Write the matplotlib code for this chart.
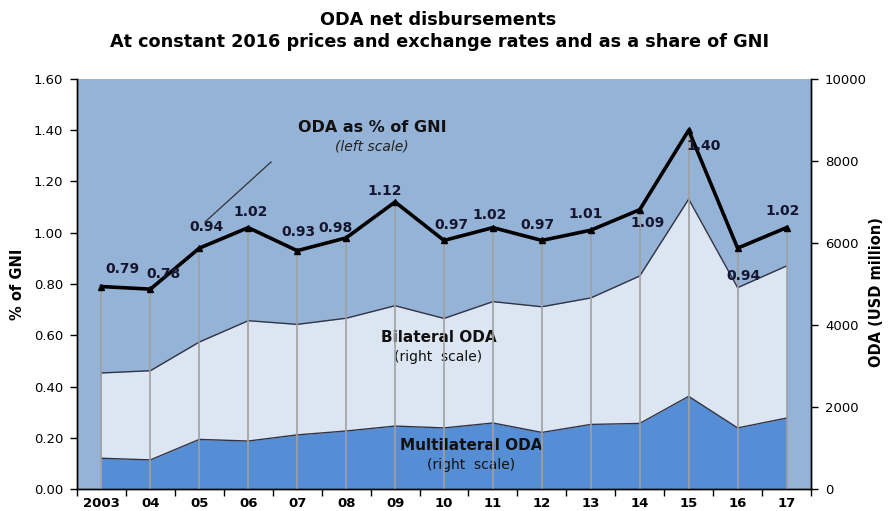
import matplotlib
matplotlib.use("Agg")
import matplotlib.pyplot as plt
import numpy as np

plt.rcParams['font.family'] = ['DejaVu Sans']

years = ["2003", "04", "05", "06", "07", "08", "09", "10", "11", "12", "13", "14", "15", "16", "17"]
multilateral = [750, 710, 1210, 1170, 1320, 1415, 1535, 1490, 1610, 1380, 1575, 1600, 2260, 1490, 1730]
total_oda = [2830, 2885, 3585, 4105, 4015, 4165, 4470, 4160, 4570, 4445, 4660, 5195, 7070, 4910, 5440]
bilateral = [t - m for t, m in zip(total_oda, multilateral)]
oda_gni = [0.79, 0.78, 0.94, 1.02, 0.93, 0.98, 1.12, 0.97, 1.02, 0.97, 1.01, 1.09, 1.40, 0.94, 1.02]
label_offsets = [(21, 18), (13, 15), (7, 21), (2, 16), (1, 19), (-11, 10), (-10, 11), (7, 15),
                 (-3, 13), (-4, 15), (-5, 16), (8, -13), (15, -16), (6, -28), (-4, 17)]

W, H = 890, 511
fig = plt.figure(figsize=(W / 100, H / 100), dpi=100)
L, R, T, B = 77, 811, 79, 489
ax = fig.add_axes([L / W, 1 - B / H, (R - L) / W, (B - T) / H])
ax.set_facecolor('#95B3D7')
x = np.arange(len(years))

ax.fill_between(x, 0, multilateral, color='#558ED5', lw=0, zorder=1)
ax.fill_between(x, multilateral, np.array(multilateral) + np.array(bilateral), color='#DCE6F2', lw=0, zorder=1)
ax.plot(x, multilateral, color='#333344', lw=1.0, zorder=2)
ax.plot(x, np.array(multilateral) + np.array(bilateral), color='#333344', lw=1.0, zorder=2)
ax.set_ylim(0, 10000)
ax.set_xlim(-0.5, len(years) - 0.5)

ax.text(6.888, 3683, 'Bilateral ODA', ha='center', va='center', fontsize=11, fontweight='bold', color='#111111', zorder=3)
ax.text(6.888, 3220, '(right  scale)', ha='center', va='center', fontsize=10, color='#111111', zorder=3)
ax.text(7.55, 1049, 'Multilateral ODA', ha='center', va='center', fontsize=11, fontweight='bold', color='#111111', zorder=3)
ax.text(7.55, 585, '(right  scale)', ha='center', va='center', fontsize=10, color='#111111', zorder=3)

ax2 = ax.twinx()
ax.yaxis.tick_right()
ax.yaxis.set_label_position('right')
ax.set_yticks(np.arange(0, 10001, 2000))
ax.set_yticklabels([str(v) for v in range(0, 10001, 2000)])
ax.set_ylabel('ODA (USD million)', fontsize=10.5, fontweight='bold', labelpad=2)
ax.yaxis.set_label_coords(1.079, 0.48)

ax2.yaxis.tick_left()
ax2.yaxis.set_label_position('left')
ax2.set_ylim(0, 1.6)
ax2.set_yticks(np.arange(0, 1.61, 0.2))
ax2.set_yticklabels([f"{v:.2f}" for v in np.arange(0, 1.61, 0.2)])
ax2.set_ylabel('% of GNI', fontsize=10.5, fontweight='bold')
ax2.yaxis.set_label_coords(-0.071, 0.5)
ax2.vlines(x, 0, oda_gni, color='#A0A0A0', lw=1.2, zorder=2)
ax2.plot(x, oda_gni, color='black', lw=2.6, marker='^', markersize=5, zorder=4)
for xi, v, (dx, dy) in zip(x, oda_gni, label_offsets):
    ax2.annotate(f"{v:.2f}", (xi, v), xytext=(dx, dy), textcoords='offset pixels',
                 ha='center', va='center', fontsize=10, fontweight='bold', color='#15152e', zorder=5)
ax2.plot([2.116, 3.465], [1.042, 1.276], color='#333333', lw=0.9, zorder=3)
ax2.text(5.53, 1.409, 'ODA as % of GNI', ha='center', va='center', fontsize=11.5, fontweight='bold', color='#111111')
ax2.text(5.53, 1.335, '(left scale)', ha='center', va='center', fontsize=10, style='italic', color='#222222')

for a in (ax, ax2):
    a.spines['top'].set_visible(False)
    for s in ('left', 'right', 'bottom'):
        a.spines[s].set_color('black')
        a.spines[s].set_linewidth(1.0)
    a.tick_params(axis='y', direction='out', length=5, width=1, labelsize=9.5, pad=5)

ax.set_xticks(np.arange(-0.5, len(years), 1.0))
ax.set_xticklabels([])
ax.set_xticks(x, minor=True)
ax.set_xticklabels(years, minor=True, fontsize=9.5, fontweight='bold')
ax.tick_params(axis='x', which='major', direction='out', length=5, width=1)
ax.tick_params(axis='x', which='minor', length=0, pad=6)

fig.text(438 / W, 1 - 20 / H, 'ODA net disbursements', ha='center', va='center', fontsize=12.7, fontweight='bold')
fig.text(440 / W, 1 - 42 / H, 'At constant 2016 prices and exchange rates and as a share of GNI',
         ha='center', va='center', fontsize=12.7, fontweight='bold')

fig.savefig('out.png', dpi=100)
